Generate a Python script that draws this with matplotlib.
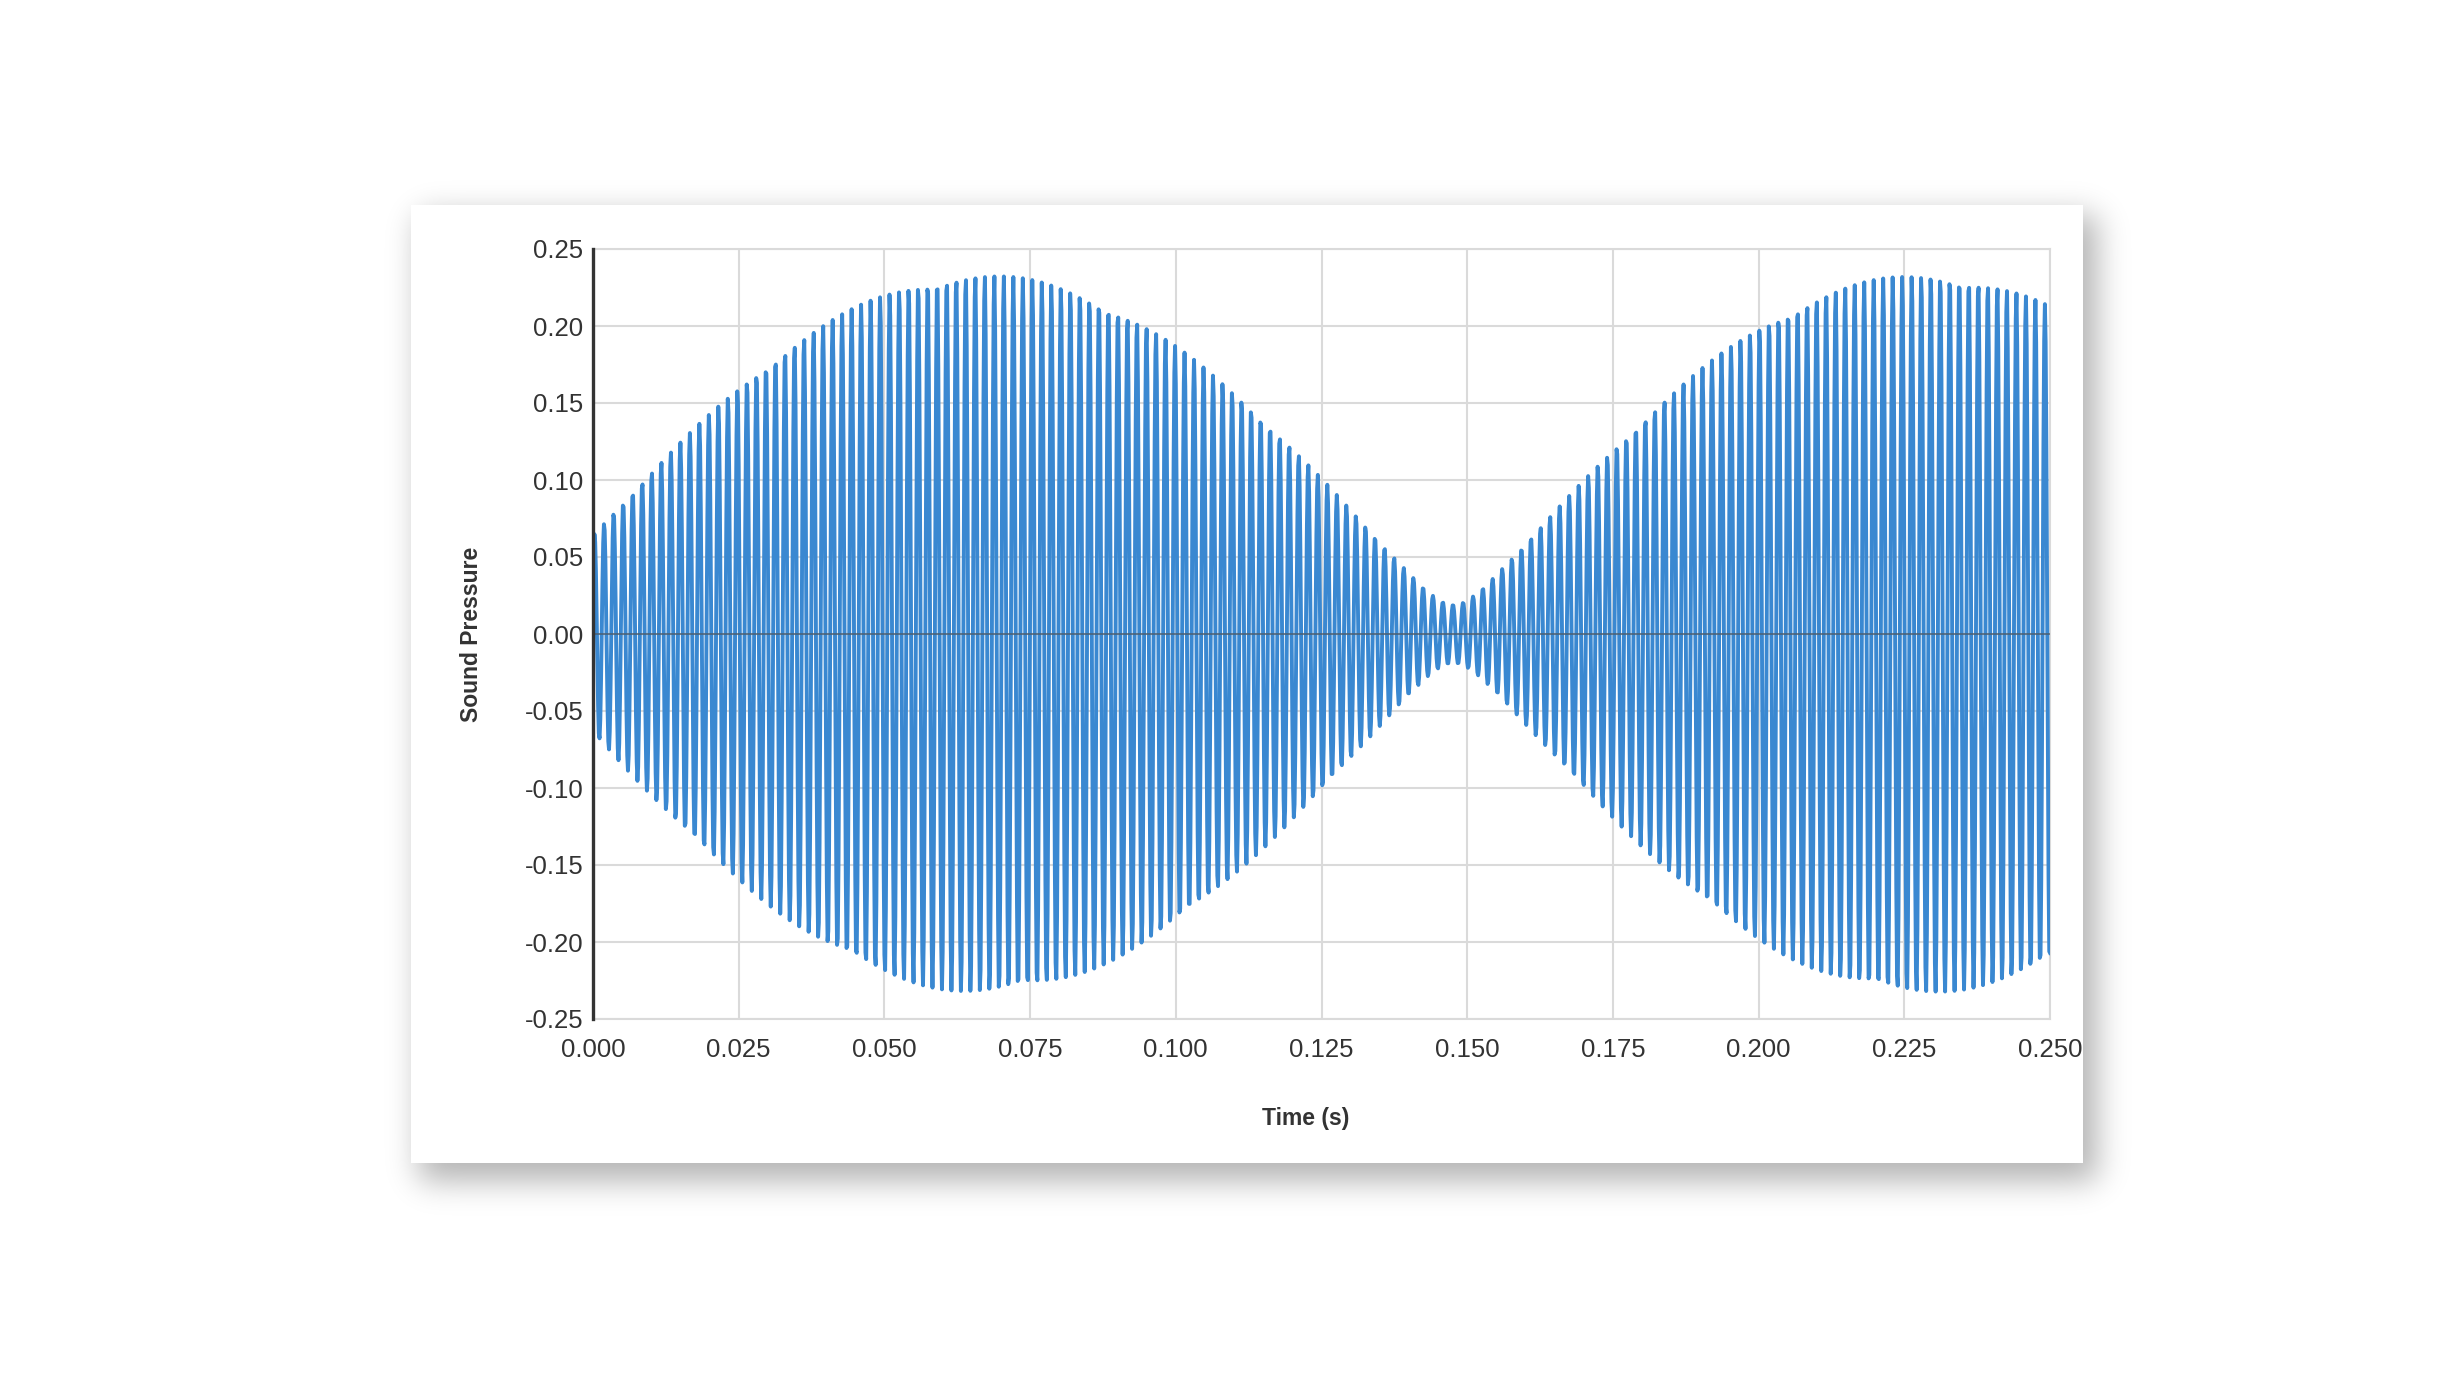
import math
import numpy as np
import matplotlib
matplotlib.use("Agg")
import matplotlib.pyplot as plt
from matplotlib.patches import Rectangle

plt.rcParams['font.family'] = ['Liberation Sans', 'DejaVu Sans']
plt.rcParams['axes.unicode_minus'] = False

# two tones that beat against each other
tone_freqs = [609.9, 616.1]      # Hz
tone_amps = [0.126, 0.107]
tone_phases = [0.0, -2.61]       # rad
sample_rate = 8000               # Hz
duration = 0.25                  # s

x_ticks = [0.000, 0.025, 0.050, 0.075, 0.100, 0.125, 0.150, 0.175, 0.200, 0.225, 0.250]
y_ticks = [-0.25, -0.20, -0.15, -0.10, -0.05, 0.00, 0.05, 0.10, 0.15, 0.20, 0.25]

W, H = 2443, 1374

t = np.arange(0, duration + 1.0 / sample_rate, 1.0 / sample_rate)
pressure = np.zeros_like(t)
for f, a, p in zip(tone_freqs, tone_amps, tone_phases):
    pressure += a * np.cos(2 * np.pi * f * t + p)


def soft_box(n, lo, hi, s):
    x = np.arange(n) + 0.5
    erf = np.vectorize(math.erf)
    return 0.5 * (erf((x - lo) / s) - erf((x - hi) / s))


# card with drop shadow
card = (411, 205, 2083, 1163)
sx = soft_box(W, card[0] + 8, card[2] + 14, 22)
sy = soft_box(H, card[1] + 10, card[3] + 18, 22)
shadow = np.zeros((H, W, 4))
shadow[..., 3] = 0.30 * sy[:, None] * sx[None, :]

fig = plt.figure(figsize=(W / 100, H / 100), dpi=100)
bg = fig.add_axes([0, 0, 1, 1])
bg.imshow(shadow, extent=(0, W, H, 0), aspect='auto', interpolation='bilinear')
bg.add_patch(Rectangle((card[0], card[1]), card[2] - card[0], card[3] - card[1],
                       facecolor='white', edgecolor='none'))
bg.set_xlim(0, W)
bg.set_ylim(H, 0)
bg.axis('off')

left, right, top, bottom = 593, 2050, 249, 1019
ax = fig.add_axes([left / W, 1 - bottom / H, (right - left) / W, (bottom - top) / H])
ax.set_facecolor('white')
ax.plot(t, pressure, color='#3a88d1', lw=2.8, solid_joinstyle='round', zorder=3)
ax.axhline(0, color='#4d5a66', lw=1.4, alpha=0.7, zorder=4)

ax.set_xlim(0, duration)
ax.set_ylim(-0.25, 0.25)
ax.set_xticks(x_ticks)
ax.set_xticklabels([f"{v:.3f}" for v in x_ticks])
ax.set_yticks(y_ticks)
ax.set_yticklabels([f"{v:.2f}" for v in y_ticks])
ax.grid(color='#dadada', lw=1.5)
ax.set_axisbelow(True)
for side in ('top', 'right', 'bottom'):
    ax.spines[side].set_color('#dadada')
    ax.spines[side].set_linewidth(1.5)
ax.spines['left'].set_color('#333333')
ax.spines['left'].set_linewidth(2.4)
ax.spines['left'].set_zorder(5)
ax.tick_params(axis='both', length=0, labelsize=18.5, colors='#333333')
ax.tick_params(axis='x', pad=14)
ax.tick_params(axis='y', pad=7)

ax.set_xlabel('Time (s)', fontsize=16.5, fontweight='bold', color='#333333', labelpad=32)
ax.xaxis.label.set_x(0.489)
ax.set_ylabel('Sound Pressure', fontsize=16.5, fontweight='bold', color='#333333', labelpad=30)

fig.savefig('out.png', dpi=100)
